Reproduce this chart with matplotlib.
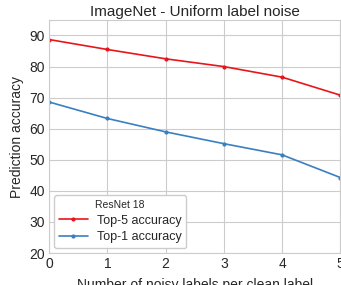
import numpy as np
import matplotlib.pyplot as plt
import seaborn as sns

sns.set_style("whitegrid")
plt.rcParams['font.family'] = ['Liberation Sans', 'DejaVu Sans']

noisy_labels = [0, 1, 2, 3, 4, 5]
top5 = [88.7, 85.5, 82.5, 80.0, 76.6, 70.8]
top1 = [68.6, 63.3, 59.0, 55.2, 51.6, 44.3]

fig = plt.figure(figsize=(3.41, 2.85), dpi=100)
ax = fig.add_axes([0.144, 0.112, 0.854, 0.818])

ax.plot(noisy_labels, top5, color='#e8161b', marker='o', markersize=2, lw=1.2, label='Top-5 accuracy')
ax.plot(noisy_labels, top1, color='#3a7fc1', marker='o', markersize=2, lw=1.2, label='Top-1 accuracy')

ax.set_xlim(0, 5)
ax.set_ylim(20, 95)
ax.set_yticks(range(20, 91, 10))
ax.tick_params(labelsize=10, pad=3, length=0)
ax.set_title('ImageNet - Uniform label noise', fontsize=11, pad=3)
ax.set_xlabel('Number of noisy labels per clean label', fontsize=10, labelpad=5)
ax.set_ylabel('Prediction accuracy', fontsize=10, labelpad=4)

leg = ax.legend(title='ResNet 18', loc='lower left', frameon=True, fontsize=9,
                title_fontsize=7.5, handlelength=2.3, handletextpad=0.7,
                borderaxespad=0.4, labelspacing=0.35)
leg.get_frame().set_edgecolor('#cccccc')
leg.get_frame().set_facecolor('white')
leg.get_frame().set_alpha(1)

fig.savefig('out.png', dpi=100)
